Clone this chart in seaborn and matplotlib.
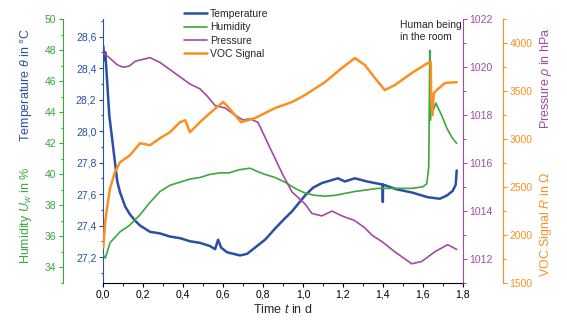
import numpy as np
import matplotlib
matplotlib.use('Agg')
import matplotlib.pyplot as plt
import seaborn as sns
from matplotlib.ticker import MultipleLocator, FuncFormatter

## data (time in days)
t_temp = [0, 0.005, 0.01, 0.03, 0.05, 0.07, 0.084, 0.11, 0.134, 0.16, 0.184, 0.234, 0.284, 0.334,
          0.384, 0.434, 0.484, 0.534, 0.56, 0.575, 0.59, 0.62, 0.685, 0.72, 0.76, 0.81, 0.86, 0.905,
          0.945, 1.01, 1.05, 1.095, 1.175, 1.21, 1.26, 1.32, 1.399, 1.40, 1.401, 1.47, 1.545, 1.625,
          1.685, 1.72, 1.75, 1.765, 1.77]
temperature = [28.54, 28.45, 28.50, 28.10, 27.89, 27.68, 27.61, 27.52, 27.47, 27.43, 27.40, 27.36, 27.35, 27.33,
               27.32, 27.30, 27.29, 27.27, 27.25, 27.31, 27.26, 27.23, 27.21, 27.22, 27.26, 27.31, 27.38, 27.44,
               27.49, 27.59, 27.64, 27.67, 27.70, 27.68, 27.70, 27.68, 27.66, 27.55, 27.66, 27.63, 27.61, 27.58,
               27.57, 27.59, 27.62, 27.66, 27.75]

t_hum = [0, 0.01, 0.034, 0.084, 0.13, 0.184, 0.234, 0.284, 0.334, 0.384, 0.434, 0.484, 0.534, 0.584,
         0.63, 0.68, 0.735, 0.77, 0.81, 0.86, 0.91, 0.96, 1.01, 1.06, 1.11, 1.16, 1.26, 1.375, 1.545,
         1.60, 1.62, 1.63, 1.635, 1.638, 1.645, 1.655, 1.665, 1.695, 1.72, 1.745, 1.77]
humidity = [34.8, 34.6, 35.6, 36.3, 36.7, 37.4, 38.2, 38.9, 39.3, 39.5, 39.7, 39.8, 40.0, 40.1,
            40.1, 40.3, 40.4, 40.2, 40.0, 39.8, 39.5, 39.1, 38.8, 38.65, 38.6, 38.65, 38.9, 39.1, 39.1,
            39.2, 39.4, 40.5, 48.0, 43.5, 44.8, 44.2, 44.6, 43.8, 43.0, 42.4, 42.0]

t_pres = [0, 0.03, 0.07, 0.1, 0.13, 0.16, 0.184, 0.234, 0.284, 0.334, 0.384, 0.434, 0.484, 0.52, 0.56,
          0.61, 0.66, 0.7, 0.735, 0.775, 0.82, 0.86, 0.9, 0.945, 1.01, 1.045, 1.095, 1.145, 1.195, 1.26,
          1.31, 1.345, 1.40, 1.46, 1.545, 1.595, 1.66, 1.725, 1.77]
pressure = [1020.6, 1020.4, 1020.1, 1020.0, 1020.05, 1020.25, 1020.3, 1020.4, 1020.2, 1019.9, 1019.6, 1019.3,
            1019.1, 1018.8, 1018.4, 1018.3, 1018.0, 1017.8, 1017.85, 1017.7, 1016.9, 1016.2, 1015.5, 1014.8,
            1014.3, 1013.9, 1013.8, 1014.0, 1013.8, 1013.6, 1013.3, 1013.0, 1012.7, 1012.3, 1011.8, 1011.9,
            1012.3, 1012.6, 1012.4]

t_voc = [0, 0.01, 0.02, 0.034, 0.058, 0.084, 0.134, 0.184, 0.234, 0.284, 0.334, 0.384, 0.41, 0.434, 0.484,
         0.534, 0.6, 0.615, 0.69, 0.76, 0.86, 0.945, 1.01, 1.11, 1.195, 1.26, 1.31, 1.36, 1.41, 1.46, 1.545,
         1.625, 1.64, 1.642, 1.648, 1.655, 1.67, 1.71, 1.77]
voc = [1870, 2150, 2300, 2489, 2656, 2760, 2833, 2958, 2937, 3010, 3073, 3177, 3198, 3073, 3177,
       3272, 3387, 3360, 3177, 3220, 3324, 3387, 3460, 3595, 3742, 3846, 3773, 3638, 3512, 3564, 3690,
       3794, 3805, 3440, 3250, 3480, 3512, 3585, 3595]

c_temp = '#2a4fa3'
c_hum = '#3aa83c'
c_pres = '#a14aa3'
c_voc = '#fa9020'

sns.set_style('ticks')
plt.rcParams['font.family'] = ['Liberation Sans', 'DejaVu Sans']
plt.rcParams['mathtext.fontset'] = 'custom'
plt.rcParams['mathtext.rm'] = 'Liberation Sans'
plt.rcParams['mathtext.it'] = 'Liberation Sans:italic'
plt.rcParams['font.size'] = 7.5

comma = FuncFormatter(lambda v, pos: f'{v:.1f}'.replace('.', ','))
intfmt = FuncFormatter(lambda v, pos: f'{v:.0f}')

fig = plt.figure(figsize=(5.67, 3.24), dpi=100)
ax = fig.add_axes([103.3/567, 1-283/324, (462.7-103.3)/567, (283-19.3)/324])
ax_h = ax.twinx()
ax_p = ax.twinx()
ax_v = ax.twinx()

sns.lineplot(x=t_temp, y=temperature, ax=ax, color=c_temp, lw=1.8, estimator=None, label='Temperature', legend=False)
sns.lineplot(x=t_hum, y=humidity, ax=ax_h, color=c_hum, lw=1.2, estimator=None, label='Humidity', legend=False)
sns.lineplot(x=t_pres, y=pressure, ax=ax_p, color=c_pres, lw=1.2, estimator=None, label='Pressure', legend=False)
sns.lineplot(x=t_voc, y=voc, ax=ax_v, color=c_voc, lw=1.8, estimator=None, label='VOC Signal', legend=False)

ax.set_xlim(0, 1.8)
ax.set_ylim(27.035, 28.71)
ax_h.set_ylim(33, 50)
ax_p.set_ylim(1011, 1022)
ax_v.set_ylim(1500, 4250)

ax.xaxis.set_major_locator(MultipleLocator(0.2))
ax.xaxis.set_minor_locator(MultipleLocator(0.1))
ax.xaxis.set_major_formatter(comma)
ax.yaxis.set_major_locator(MultipleLocator(0.2))
ax.yaxis.set_minor_locator(MultipleLocator(0.1))
ax.yaxis.set_major_formatter(comma)
ax_h.yaxis.set_major_locator(MultipleLocator(2))
ax_h.yaxis.set_minor_locator(MultipleLocator(1))
ax_p.yaxis.set_major_locator(MultipleLocator(2))
ax_p.yaxis.set_minor_locator(MultipleLocator(1))
ax_v.yaxis.set_major_locator(MultipleLocator(500))
ax_v.yaxis.set_minor_locator(MultipleLocator(250))
for a in (ax_h, ax_p, ax_v):
    a.yaxis.set_major_formatter(intfmt)

# spines
for a in (ax, ax_h, ax_p, ax_v):
    for s in a.spines.values():
        s.set_visible(False)
    a.set_xlabel('')
    a.set_ylabel('')
ax.spines['bottom'].set_visible(True)
ax.spines['bottom'].set_color('black')
ax.spines['left'].set_visible(True)
ax.spines['left'].set_color(c_temp)

ax_h.yaxis.set_ticks_position('left')
ax_h.spines['left'].set_visible(True)
ax_h.spines['left'].set_position(('outward', 28.8))
ax_h.spines['left'].set_color(c_hum)

ax_p.spines['right'].set_visible(True)
ax_p.spines['right'].set_color(c_pres)

ax_v.spines['right'].set_visible(True)
ax_v.spines['right'].set_position(('outward', 28.8))
ax_v.spines['right'].set_color(c_voc)

for a, c in ((ax, c_temp), (ax_h, c_hum), (ax_p, c_pres), (ax_v, c_voc)):
    a.tick_params(axis='y', which='major', colors=c, labelcolor=c, length=3, width=0.8, labelsize=7.5, pad=2)
    a.tick_params(axis='y', which='minor', colors=c, length=1.8, width=0.8)
ax.tick_params(axis='x', which='major', length=3, width=0.8, labelsize=7.5, pad=2, colors='black')
ax.tick_params(axis='x', which='minor', length=1.8, width=0.8)

ax.set_xlabel('Time $t$ in d', fontsize=9, labelpad=2)

fig.text(26/567, 1-28/324, r'Temperature $\theta$ in °C', rotation=90, color=c_temp,
         fontsize=9, ha='center', va='top')
fig.text(26/567, 1-264/324, 'Humidity $U_w$ in %', rotation=90, color=c_hum,
         fontsize=9, ha='center', va='bottom')
fig.text(546/567, 1-27/324, r'Pressure $\rho$ in hPa', rotation=90, color=c_pres,
         fontsize=9, ha='center', va='top')
fig.text(546/567, 1-277/324, r'VOC Signal $R$ in $\Omega$', rotation=90, color=c_voc,
         fontsize=9, ha='center', va='bottom')

fig.text(400/567, 1-20/324, 'Human being\nin the room', fontsize=7.5, ha='left', va='top',
         linespacing=1.3)

handles = [ax.get_lines()[0], ax_h.get_lines()[0], ax_p.get_lines()[0], ax_v.get_lines()[0]]
fig.legend(handles, ['Temperature', 'Humidity', 'Pressure', 'VOC Signal'], loc='upper left',
           bbox_to_anchor=(184/567, 1-9/324), frameon=False, fontsize=7.5,
           handlelength=2.2, handletextpad=0.3, labelspacing=0.32, borderaxespad=0, borderpad=0)

fig.savefig('out.png', dpi=100)
